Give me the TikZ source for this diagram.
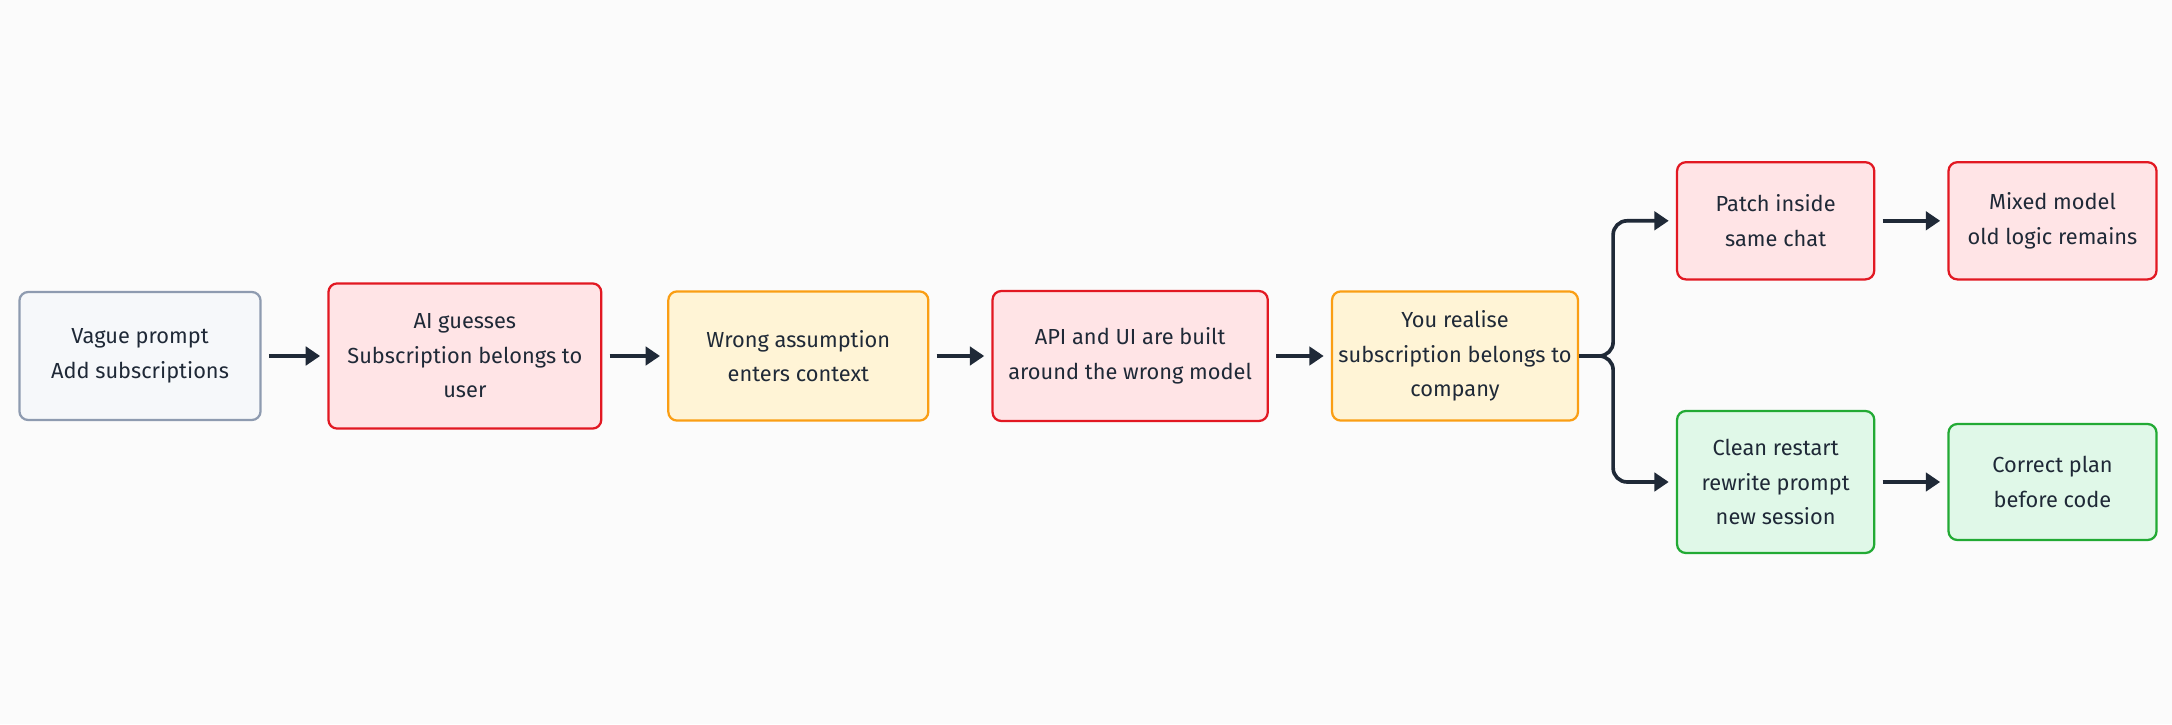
\documentclass[tikz,border=0pt]{standalone}
\usepackage{fontspec}
\setmainfont{Fira Sans}
\usetikzlibrary{positioning,arrows.meta,calc}
\definecolor{inkdark}{RGB}{31,41,55}
\definecolor{slateline}{RGB}{142,155,176}
\definecolor{slatefill}{RGB}{246,248,250}
\definecolor{redline}{RGB}{226,24,34}
\definecolor{redfill}{RGB}{255,228,230}
\definecolor{amberline}{RGB}{250,158,20}
\definecolor{amberfill}{RGB}{255,244,214}
\definecolor{greenline}{RGB}{34,170,52}
\definecolor{greenfill}{RGB}{224,248,232}
\definecolor{pagebg}{RGB}{251,251,251}

\begin{document}
\begin{tikzpicture}
  [stage/.style={
    rectangle,
    rounded corners=0.22cm,
    line width=1.6pt,
    align=center,
    inner sep=2pt,
    font=\fontsize{15.5}{24.6}\selectfont,
    text=inkdark
    },
   neutral/.style={stage, draw=slateline, fill=slatefill},
   wrong/.style={stage, draw=redline, fill=redfill},
   warn/.style={stage, draw=amberline, fill=amberfill},
   good/.style={stage, draw=greenline, fill=greenfill},
   flow/.style={
    draw=inkdark,
    line width=2.6pt,
    -{Triangle[length=0.36cm,width=0.46cm]},
    shorten >=0.18cm
    }
  ]

  % BACKGROUND
  \fill[pagebg] (-3.5,-9.2) rectangle (50.8,8.9);
  \useasboundingbox (-3.5,-9.2) rectangle (50.8,8.9);

  % MAIN LINE
  \node [neutral, minimum width=6.03cm, minimum height=3.2cm] (vague)
    {Vague prompt\\Add subscriptions};
  \node [wrong, minimum width=6.82cm, minimum height=3.63cm, right=1.64cm of vague]
    (guess)
    {AI guesses\\Subscription belongs to\\user};
  \node [warn, minimum width=6.5cm, minimum height=3.23cm, right=1.62cm of guess]
    (context)
    {Wrong assumption\\enters context};
  \node [wrong, minimum width=6.88cm, minimum height=3.25cm, right=1.55cm of context]
    (built)
    {API and UI are built\\around the wrong model};
  \node [warn, minimum width=6.15cm, minimum height=3.23cm, right=1.55cm of built]
    (realise)
    {You realise\\subscription belongs to\\company};

  % BRANCHES
  \node [
    wrong,
    minimum width=4.93cm,
    minimum height=2.93cm,
    right=2.42cm of realise.east,
    yshift=3.38cm,
    anchor=west
    ]
    (patch)
    {Patch inside\\same chat};
  \node [wrong, minimum width=5.2cm, minimum height=2.93cm, right=1.8cm of patch]
    (mixed)
    {Mixed model\\old logic remains};

  \node [
    good,
    minimum width=4.93cm,
    minimum height=3.55cm,
    right=2.42cm of realise.east,
    yshift=-3.15cm,
    anchor=west
    ]
    (restart)
    {Clean restart\\rewrite prompt\\new session};
  \node [good, minimum width=5.2cm, minimum height=2.9cm, right=1.8cm of restart]
    (plan)
    {Correct plan\\before code};

  % ARROWS
  \foreach \from/\to in {vague/guess, guess/context, context/built, built/realise, patch/mixed, restart/plan}
    \draw[flow, shorten <=0.18cm] (\from.east) -- (\to.west);

  \coordinate[right=0.85cm of realise.east] (fork);
  \draw[flow, rounded corners=0.35cm] (realise.east) -- (fork) |- (patch.west);
  \draw[flow, rounded corners=0.35cm] (realise.east) -- (fork) |- (restart.west);
\end{tikzpicture}
\end{document}
